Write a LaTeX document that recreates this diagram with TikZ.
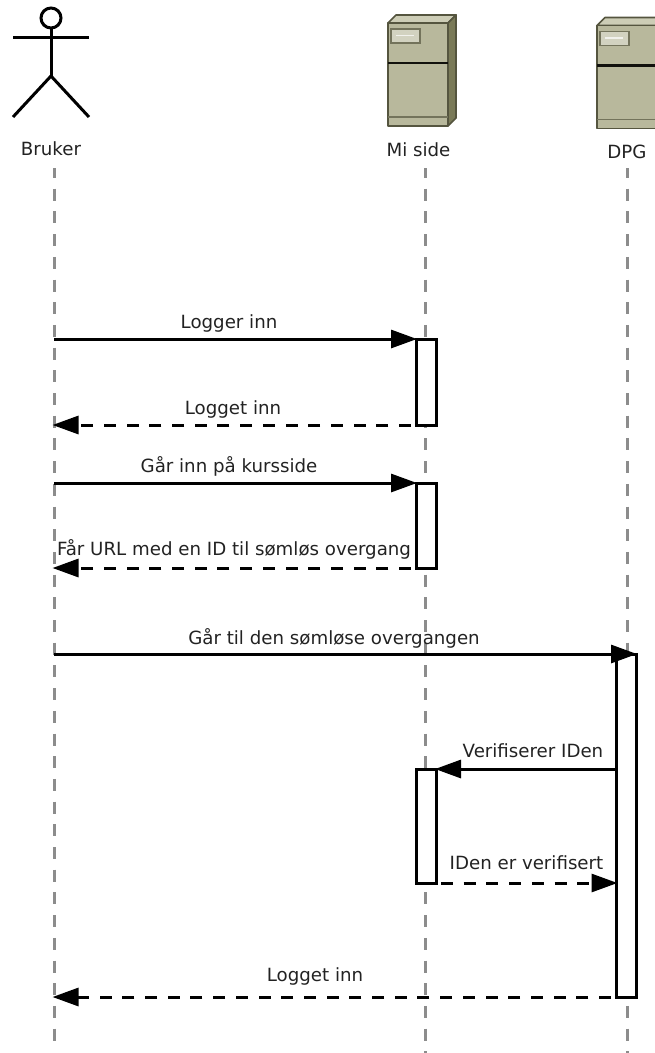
\documentclass[tikz,border=0pt]{standalone}
\usepackage{fontspec}
\setmainfont{DejaVu Sans}
\usetikzlibrary{arrows.meta}
\definecolor{srvfront}{HTML}{B8B89C}
\definecolor{srvtop}{HTML}{CDCDB6}
\definecolor{srvside}{HTML}{7A7A58}
\definecolor{srvline}{HTML}{55553F}
\definecolor{srvpanel}{HTML}{D2D2C0}
\definecolor{lifegray}{HTML}{8C8C8C}
\definecolor{txt}{HTML}{222222}
\tikzset{
  x=1pt,y=-1pt,
  actorline/.style={line width=3pt,black},
  lifeline/.style={line width=3pt,lifegray,dash pattern=on 12pt off 10.7pt,dash phase=2pt},
  activation/.style={draw=black,line width=3pt,fill=white,minimum width=20pt,inner sep=0pt,outer sep=0pt,anchor=north west},
  call/.style={line width=3pt,black,shorten >=-1pt,-{Triangle[length=26pt,width=18pt]}},
  reply/.style={line width=3pt,black,shorten >=-1.5pt,dash pattern=on 12pt off 10.7pt,dash phase=17.7pt,-{Triangle[length=26pt,width=18pt]}},
  msg/.style={font=\fontsize{18.2pt}{20pt}\selectfont,text=txt,inner sep=0pt},
  srvedge/.style={draw=srvline,line width=1.7pt,line join=round},
  pics/server/.style={code={
    \fill[srvtop,srvedge] (0,0) -- (8,-8) -- (68,-8) -- (60,0) -- cycle;
    \fill[srvside,srvedge] (60,0) -- (68,-8) -- (68,95) -- (60,103) -- cycle;
    \fill[srvfront,srvedge] (0,0) rectangle (60,103);
    \draw[line width=2.4pt,black!80!srvline] (0,40) -- (60,40);
    \draw[line width=1.3pt,srvline!70!srvfront] (0,94) -- (60,94);
    \fill[srvpanel,draw=srvline!70!srvfront,line width=1.3pt] (3,6) rectangle (32,20);
    \draw[line width=1.3pt,white!70!srvpanel] (8,12.5) -- (26,12.5);
  }}
}
\begin{document}
\begin{tikzpicture}
\useasboundingbox (0,0) rectangle (654,1053);
% lifelines
\coordinate (uTop) at (54,168); \coordinate (uEnd) at (54,1046);
\coordinate (mTop) at (425,168); \coordinate (mEnd) at (425,1053);
\coordinate (dTop) at (627,168); \coordinate (dEnd) at (627,1053);
\draw[lifeline] (uTop) -- (uEnd);
\draw[lifeline] (mTop) -- (mEnd);
\draw[lifeline] (dTop) -- (dEnd);
% actor
\coordinate (head) at (51,18);
\coordinate (neck) at (51,28);
\coordinate (armL) at (13,37);
\coordinate (armR) at (89,37);
\coordinate (hip) at (51,76);
\coordinate (legL) at (13,117);
\coordinate (legR) at (89,117);
\draw[actorline] (head) circle[radius=10];
\draw[actorline] (neck) -- (hip);
\draw[actorline] (armL) -- (armR);
\draw[actorline,line join=miter] (legL) -- (hip) -- (legR);
\node[msg] (lblBruker) at (51,148.5) {Bruker};
% servers
\pic at (388,23) {server};
\node[msg] (lblMi) at (418.5,150) {Mi side};
\pic at (597,25.5) {server};
\node[msg] (lblDpg) at (627,152) {DPG};
% activations
\node[activation,minimum height=86pt] (a1) at (416,339) {};
\node[activation,minimum height=85pt] (a2) at (416,483) {};
\node[activation,minimum height=343pt] (a3) at (616,654) {};
\node[activation,minimum height=114pt] (a4) at (416,769) {};
% endpoints on Bruker's lifeline
\coordinate (u1) at (54,339);
\coordinate (u2) at (54,425);
\coordinate (u3) at (54,483);
\coordinate (u4) at (54,568);
\coordinate (u5) at (54,654);
\coordinate (u6) at (54,997);
% messages
\draw[call] (u1) -- (a1.north west);
\draw[reply] (a1.south west) -- (u2);
\draw[call] (u3) -- (a2.north west);
\draw[reply] (a2.south west) -- (u4);
\draw[call] (u5) -- (a3.north east);
\draw[call] (a3.west |- a4.north) -- (a4.north east);
\draw[reply] (a4.south east) -- (a3.west |- a4.south);
\draw[reply] (a3.south west) -- (u6);
% labels
\node[msg] (m1) at (229,323) {Logger inn};
\node[msg] (m2) at (233,409) {Logget inn};
\node[msg] (m3) at (229,466) {Går inn på kursside};
\node[msg] (m4) at (234,549) {Får URL med en ID til sømløs overgang};
\node[msg] (m5) at (334,638) {Går til den sømløse overgangen};
\node[msg] (m6) at (533,751) {Verifiserer IDen};
\node[msg] (m7) at (526.5,863) {IDen er verifisert};
\node[msg] (m8) at (315,976) {Logget inn};
\end{tikzpicture}
\end{document}
